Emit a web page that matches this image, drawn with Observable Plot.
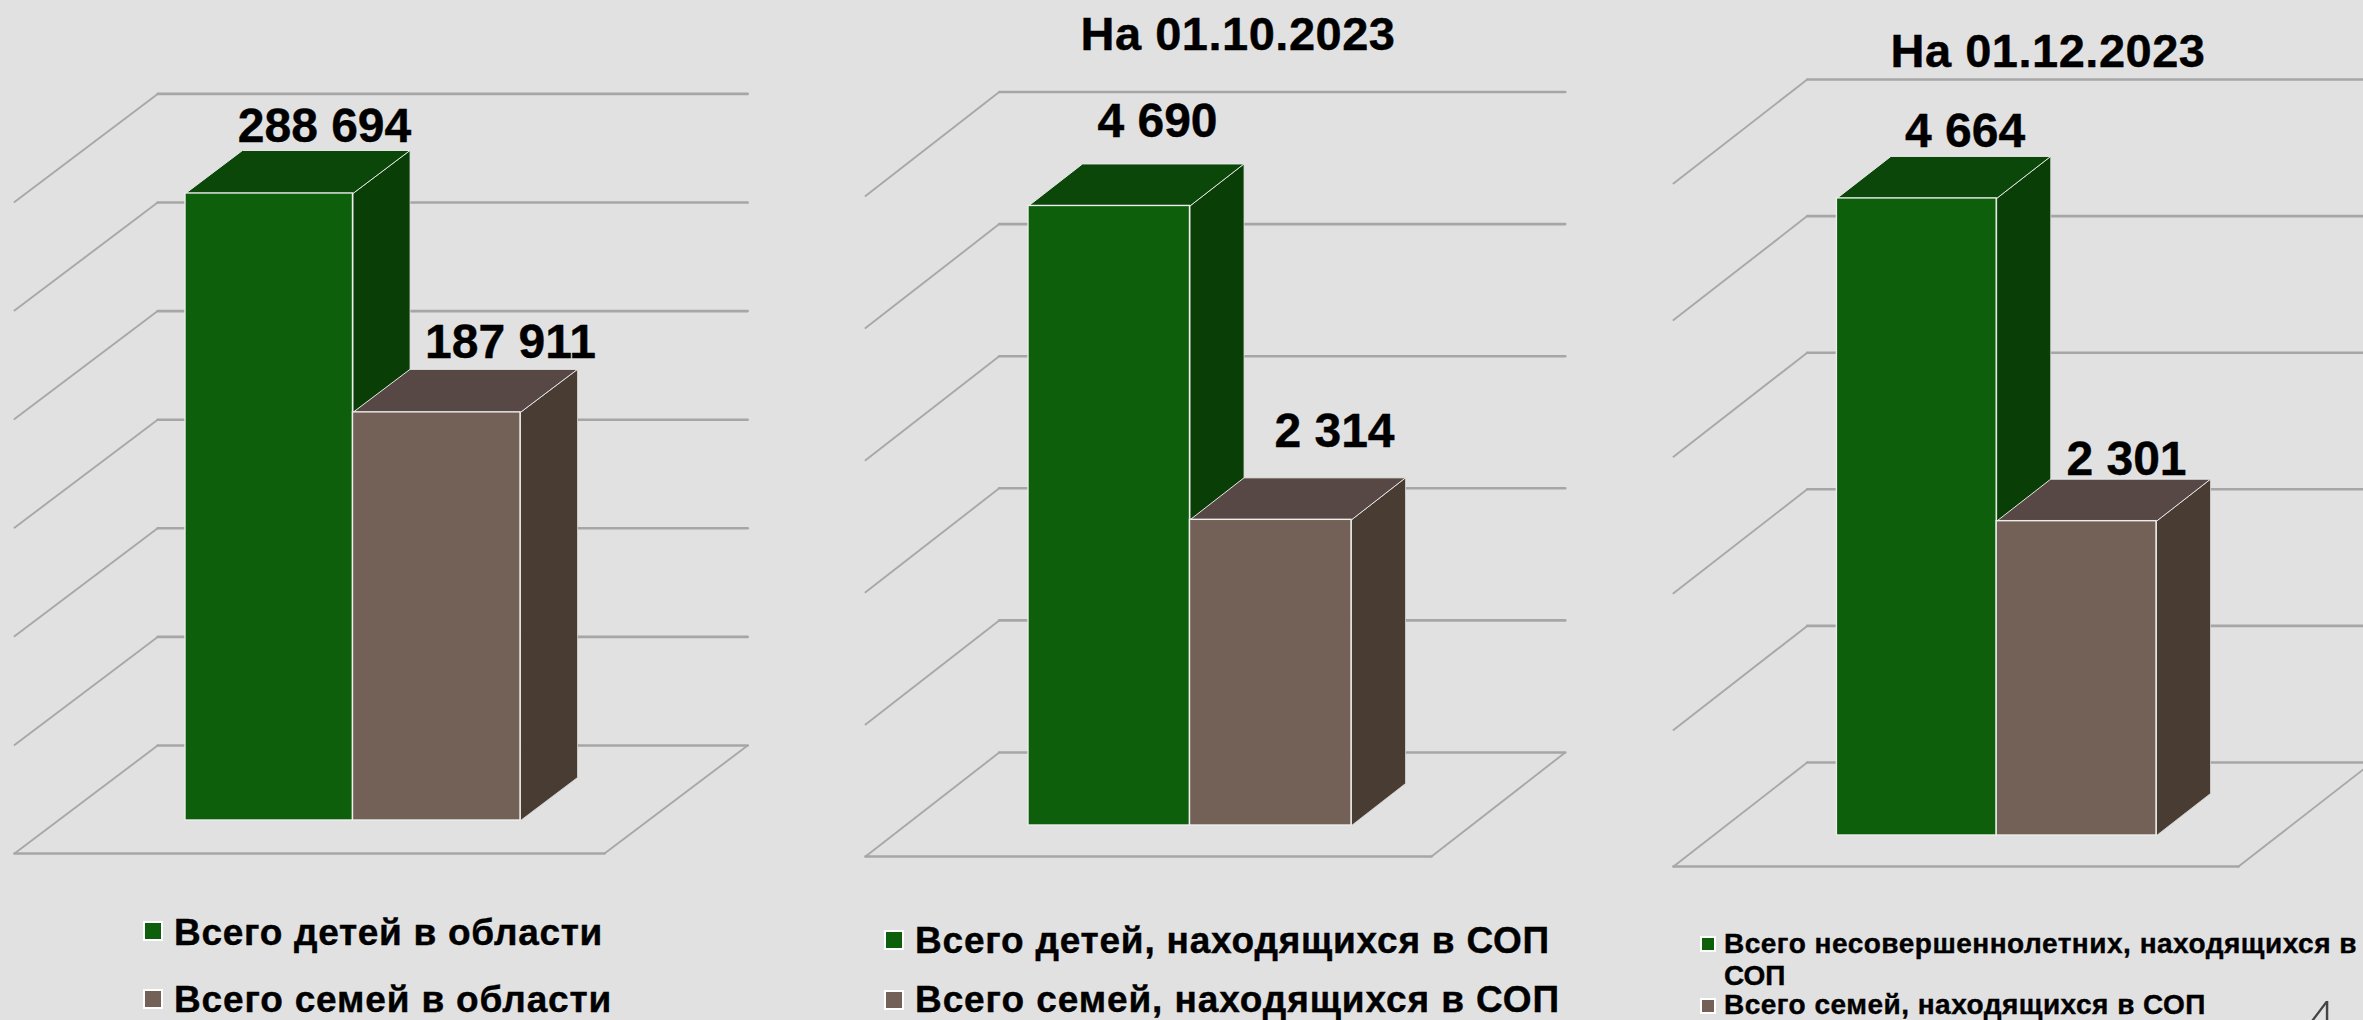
<!DOCTYPE html>
<html><head><meta charset="utf-8">
<script src="https://cdn.jsdelivr.net/npm/d3@7"></script>
<script src="https://cdn.jsdelivr.net/npm/@observablehq/plot@0.6"></script>
<style>
html,body{margin:0;padding:0;background:#e1e1e1;overflow:hidden;width:2363px;height:1020px}
#page{position:relative;width:2363px;height:1020px;overflow:hidden;font-family:"Liberation Sans",sans-serif;font-weight:700;color:#000}
#page svg{position:absolute;top:0;background:transparent;overflow:hidden}
.t{position:absolute;white-space:nowrap;line-height:0.9;-webkit-text-stroke:0.4px #000}
.m{position:absolute;box-sizing:border-box;border:2px solid #fff}
</style></head><body><div id="page"></div>
<script>
// ---- data ----
const titles = [null, "На 01.10.2023", "На 01.12.2023"];
const legendGreen = ["Всего детей в области", "Всего детей, находящихся в СОП", "Всего несовершеннолетних, находящихся в СОП"];
const legendBrown = ["Всего семей в области", "Всего семей, находящихся в СОП", "Всего семей, находящихся в СОП"];
const childrenValues = [288694, 4690, 4664];
const familyValues = [187911, 2314, 2301];
const ticks1 = [0, 50000, 100000, 150000, 200000, 250000, 300000];
const ticks2 = [0, 1000, 2000, 3000, 4000, 5000];
const ticks3 = [0, 1000, 2000, 3000, 4000, 5000];
const allTicks = [ticks1, ticks2, ticks3];
const pageNumber = "4";

// ---- styling and layout, in pixels ----
const greenColors = {front: "#0e5f0c", top: "#0b4708", side: "#093f06"};
const brownColors = {front: "#736056", top: "#574845", side: "#483c33"};
const H = 1020;
const layouts = [
  {left:0, width:780, barX:185, barW:167.5, baseY:820, perUnit:108.6/50000, depthX:57, depthY:43,
   zFront:-33/43, zBack:75/43, floorLeft:14, floorW:590,
   labels:[[324,141.7],[510,357.7]], fs:48,
   legend:{mx:143, ms:20, tx:174, rows:[{my:921,base:945,w:429},{my:989,base:1012,w:438}], fs:37}},
  {left:780, width:860, barX:1028, barW:161.5, baseY:825, perUnit:132.1/1000, depthX:54, depthY:42,
   zFront:-31/42, zBack:73/42, floorLeft:865, floorW:566,
   labels:[[1157,136.7],[1334,446]], fs:48, title:{cx:1238, base:50, w:315},
   legend:{mx:884, ms:20, tx:915, rows:[{my:930,base:953,w:635},{my:990,base:1012,w:645}], fs:37}},
  {left:1640, width:723, barX:1836.4, barW:159.8, baseY:835, perUnit:136.6/1000, depthX:54, depthY:42,
   zFront:-31/42, zBack:73/42, floorLeft:1673, floorW:565,
   labels:[[1964.6,146.7],[2126,474]], fs:48, title:{cx:2048, base:67.3, w:315},
   legend:{mx:1700, ms:16, tx:1724, rows:[{my:936,base:953,w:633,wrap:985},{my:998,base:1014,w:482}], fs:28}}
];

const fmt = d3.formatLocale({thousands:"\u00a0", grouping:[3], decimal:",", currency:["",""]}).format(",d");
const page = document.getElementById("page");

function addText(str, x, base, fs, targetW, anchor){
  const el = document.createElement("div");
  el.className = "t"; el.textContent = str; el.style.fontSize = fs + "px";
  page.appendChild(el);
  const w0 = el.getBoundingClientRect().width;
  if (targetW) el.style.letterSpacing = ((targetW - w0) / str.length).toFixed(3) + "px";
  const w = targetW || w0;
  el.style.left = (anchor === "middle" ? x - w / 2 : x) + "px";
  // line-height 0.9 with Liberation metrics puts the baseline 0.7965em below the box top
  el.style.top = (base - fs * 0.7965) + "px";
  return el;
}

function panel(i){
  const L = layouts[i];
  const ticks = allTicks[i];
  const values = [childrenValues[i], familyValues[i]];
  const colors = [greenColors, brownColors];
  // Oblique projection: x is in bar widths, y in data values, z in bar depths.
  const dX = L.depthX / L.barW, dY = L.depthY / L.perUnit;
  const P = (x, v, z = 0) => ({x: x + z * dX, y: v + z * dY});
  const xDomain = [(L.left - L.barX) / L.barW, (L.left + L.width - L.barX) / L.barW];
  const yDomain = [(L.baseY - H) / L.perUnit, L.baseY / L.perUnit];
  const floorX0 = (L.floorLeft - L.barX) / L.barW - L.zFront * dX; // x at z=0 on the left edge
  const floorW = L.floorW / L.barW;

  const wall = [], side = [];
  ticks.forEach((t, k) => {
    const id = "t" + k;
    [P(floorX0, t, L.zBack), P(floorX0 + floorW, t, L.zBack)].forEach(p => wall.push({...p, id}));
    [P(floorX0, t, L.zFront), P(floorX0, t, L.zBack)].forEach(p => side.push({...p, id}));
    if (t === 0) {
      [P(floorX0 + floorW, t, L.zBack), P(floorX0 + floorW, t, L.zFront)].forEach(p => side.push({...p, id:"r"}));
      [P(floorX0 + floorW, t, L.zFront), P(floorX0, t, L.zFront)].forEach(p => wall.push({...p, id:"f"}));
    }
  });

  const marks = [
    Plot.line(side, {x:"x", y:"y", z:"id", stroke:"#a8a8a8", strokeWidth:1.9, imageFilter:"blur(0.4px)"}),
    Plot.line(wall, {x:"x", y:"y", z:"id", stroke:"#a6a6a6", strokeWidth:2.6, imageFilter:"blur(0.5px)"})
  ];
  values.forEach((v, b) => {
    const c = colors[b];
    const sideFace = [P(b+1,0,0), P(b+1,v,0), P(b+1,v,1), P(b+1,0,1), P(b+1,0,0)];
    const topFace = [P(b,v,0), P(b+1,v,0), P(b+1,v,1), P(b,v,1), P(b,v,0)];
    marks.push(
      Plot.line(sideFace, {x:"x", y:"y", fill:c.side, stroke:"#d8d8d8", strokeWidth:0.8}),
      Plot.line(topFace, {x:"x", y:"y", fill:c.top, stroke:"#e8e8e8", strokeWidth:1}),
      Plot.rectY([{b, v}], {x1:d=>d.b, x2:d=>d.b+1, y1:0, y2:d=>d.v, fill:c.front, stroke:"#ededed", strokeWidth:1.4, inset:0})
    );
    const cx = L.barX + (b + 0.5) * L.barW;
    const topY = L.baseY - v * L.perUnit;
    marks.push(Plot.text([{b, v}], {
      x:d=>d.b+0.5, y:d=>d.v, text:d=>fmt(d.v), textAnchor:"middle", lineAnchor:"bottom",
      dx:L.labels[b][0]-cx, dy:L.labels[b][1]-topY,
      fontSize:L.fs, fontWeight:700, fontFamily:'"Liberation Sans",sans-serif', fill:"#000", stroke:"#000", strokeWidth:0.4
    }));
  });

  const svg = Plot.plot({
    width:L.width, height:H, margin:0,
    x:{domain:xDomain, range:[0, L.width], axis:null},
    y:{domain:yDomain, range:[H, 0], axis:null},
    marks
  });
  svg.style.left = L.left + "px";
  page.appendChild(svg);

  if (titles[i]) addText(titles[i], L.title.cx, L.title.base, 47, L.title.w, "middle");
  const leg = L.legend;
  [legendGreen[i], legendBrown[i]].forEach((s, r) => {
    const row = leg.rows[r];
    const m = document.createElement("div");
    m.className = "m";
    m.style.cssText = `left:${leg.mx}px;top:${row.my}px;width:${leg.ms}px;height:${leg.ms}px;background:${colors[r].front}`;
    page.appendChild(m);
    if (row.wrap) {
      const cut = s.lastIndexOf(" ");
      addText(s.slice(0, cut), leg.tx, row.base, leg.fs, row.w);
      addText(s.slice(cut + 1), leg.tx, row.wrap, leg.fs);
    } else addText(s, leg.tx, row.base, leg.fs, row.w);
  });
}
[0, 1, 2].forEach(panel);
const pn = addText(pageNumber, 2304, 1040, 58);
pn.style.fontWeight = 300; pn.style.fontFamily = '"Lato","Liberation Sans",sans-serif'; pn.style.color = "#444";
pn.style.webkitTextStroke = "0";
</script></body></html>
